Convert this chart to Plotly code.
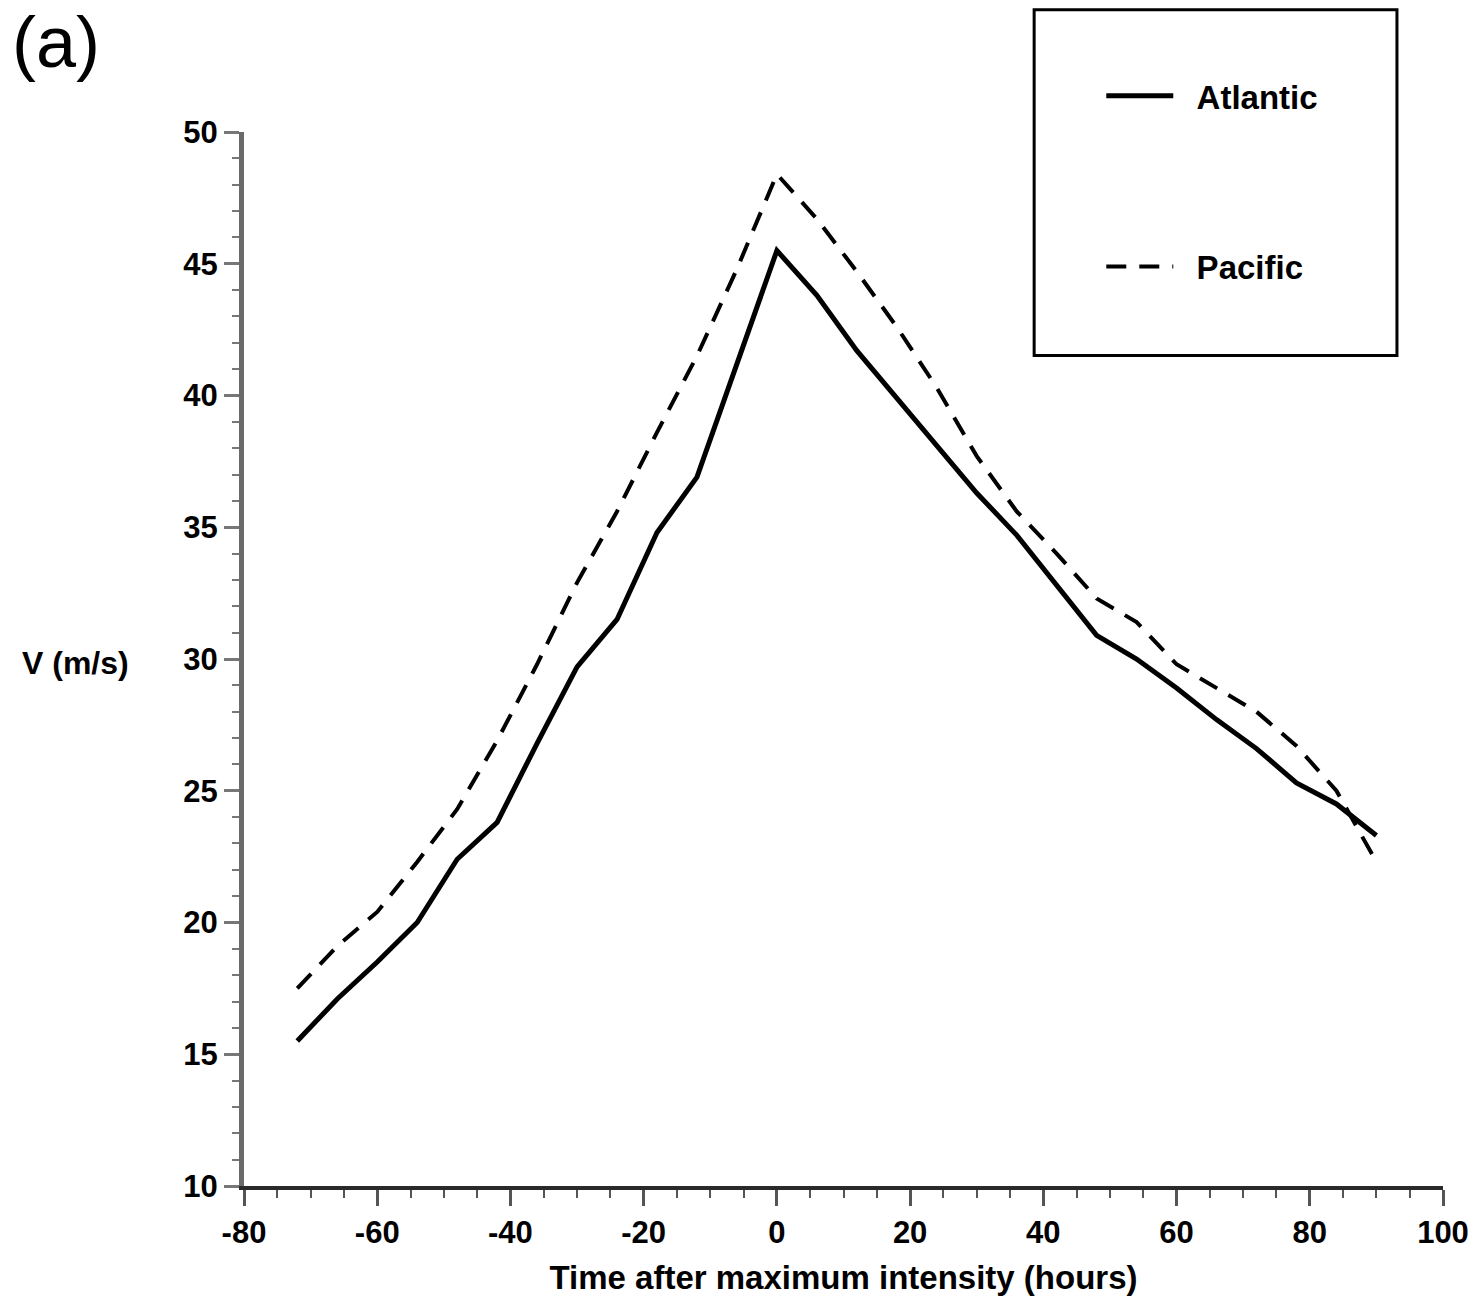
import plotly.graph_objects as go

# Data
hours = [-72, -66, -60, -54, -48, -42, -36, -30, -24, -18, -12, -6, 0,
         6, 12, 18, 24, 30, 36, 42, 48, 54, 60, 66, 72, 78, 84, 90]
atlantic = [15.5, 17.1, 18.5, 20.0, 22.4, 23.8, 26.8, 29.7, 31.5, 34.8, 36.9, 41.2, 45.5,
            43.8, 41.7, 39.9, 38.1, 36.3, 34.7, 32.8, 30.9, 30.0, 28.9, 27.7, 26.6, 25.3, 24.5, 23.3]
pacific = [17.5, 19.1, 20.4, 22.3, 24.3, 26.9, 29.8, 32.9, 35.6, 38.6, 41.5, 44.8, 48.4,
           46.7, 44.7, 42.6, 40.3, 37.7, 35.6, 34.0, 32.3, 31.4, 29.8, 28.9, 28.0, 26.7, 25.0, 22.3]

x_ticks = [-80, -60, -40, -20, 0, 20, 40, 60, 80, 100]
y_ticks = [10, 15, 20, 25, 30, 35, 40, 45, 50]

FONT = "Liberation Sans, Arial, sans-serif"
PAD = "\u00a0\u00a0"

fig = go.Figure()
fig.add_trace(go.Scatter(x=hours, y=atlantic, mode="lines", name=PAD + "Atlantic",
                         legendgroup="a",
                         line=dict(color="black", width=5)))
fig.add_trace(go.Scatter(x=hours, y=pacific, mode="lines", name=PAD + "Pacific",
                         legendgroup="p",
                         line=dict(color="black", width=4, dash="20px,13px")))

fig.update_layout(
    width=1473, height=1302,
    margin=dict(l=244, r=30, t=132, b=116, autoexpand=False),
    paper_bgcolor="white", plot_bgcolor="white",
    font=dict(family=FONT, size=32, color="black", weight="bold"),
    showlegend=True,
    legend=dict(x=0.715, y=1.061, xanchor="left", yanchor="top",
                bgcolor="rgba(0,0,0,0)", borderwidth=0,
                font=dict(family=FONT, size=33, weight="bold"),
                tracegroupgap=125, itemwidth=67),
)

fig.update_xaxes(
    range=[-80, 100], tickvals=x_ticks, ticktext=[str(v) for v in x_ticks],
    automargin=False,
    showgrid=False, zeroline=False,
    showline=True, linecolor="#2a2a2a", linewidth=4,
    ticks="outside", ticklen=16, tickwidth=3, tickcolor="#555",
    tickfont=dict(family=FONT, size=31, weight="bold"),
    minor=dict(dtick=5, ticks="outside", ticklen=8, tickwidth=2, tickcolor="#555"),
    title=dict(text="Time after maximum intensity (hours)",
               font=dict(family=FONT, size=33, weight="bold"), standoff=18),
)
fig.update_yaxes(
    range=[10, 50], tickvals=y_ticks, ticktext=[str(v) for v in y_ticks],
    automargin=False,
    showgrid=False, zeroline=False,
    showline=True, linecolor="#6a6a6a", linewidth=5,
    ticks="outside", ticklen=15, tickwidth=3, tickcolor="#777",
    tickfont=dict(family=FONT, size=31, weight="bold"),
    minor=dict(dtick=1, ticks="outside", ticklen=7, tickwidth=2, tickcolor="#777"),
)

# legend box
fig.add_shape(type="rect", xref="paper", yref="paper",
              x0=0.659, x1=0.9616, y0=0.788, y1=1.116,
              line=dict(color="black", width=3))

# y-axis label (horizontal)
fig.add_annotation(text="V (m/s)", xref="paper", yref="paper",
                   x=(20 - 244) / 1199, y=(1186 - 663) / 1054,
                   xanchor="left", yanchor="middle", showarrow=False,
                   font=dict(family=FONT, size=32, weight="bold"))
# panel label
fig.add_annotation(text="(a)", xref="paper", yref="paper",
                   x=(10 - 244) / 1199, y=(1186 - 42) / 1054,
                   xanchor="left", yanchor="middle", showarrow=False,
                   font=dict(family=FONT, size=72, weight="normal"))

fig.write_html("out.html", config={"displayModeBar": False},
               post_script="document.body.style.margin='0';document.body.style.overflow='hidden';")
